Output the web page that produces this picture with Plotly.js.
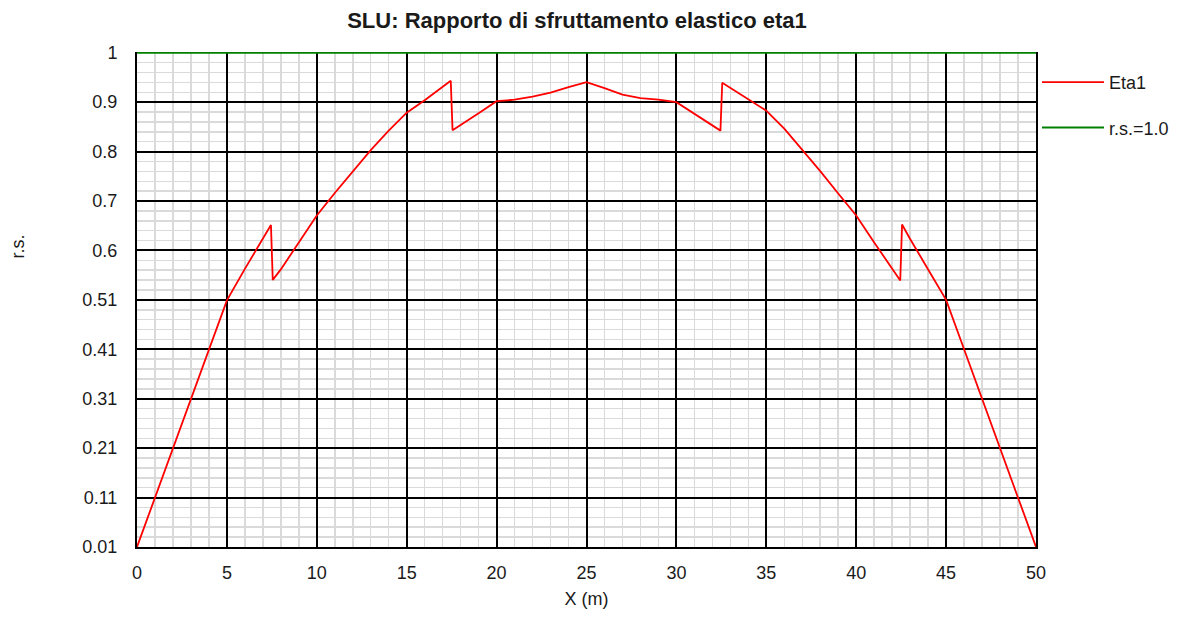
<!DOCTYPE html>
<html>
<head>
<meta charset="utf-8">
<script src="https://cdn.plot.ly/plotly-3.0.1.min.js"></script>
<style>
  html, body { margin: 0; padding: 0; background: #ffffff; }
  #chart { width: 1187px; height: 619px; }
</style>
</head>
<body>
<div id="chart"></div>
<script>
// ---- data ----
const xPos = [0, 1, 2, 3, 4, 5, 6, 7, 7.45, 7.55, 8, 9, 10, 11, 12, 13, 14, 15, 16, 17, 17.45, 17.55,
  18, 19, 20, 21, 22, 23, 24, 25, 26, 27, 28, 29, 30, 31, 32, 32.45, 32.55,
  33, 34, 35, 36, 37, 38, 39, 40, 41, 42, 42.45, 42.55, 43, 44, 45, 46, 47, 48, 49, 50];
const eta1 = [0.01, 0.109, 0.208, 0.307, 0.406, 0.504, 0.567, 0.628, 0.655, 0.545, 0.566, 0.620, 0.674,
  0.719, 0.763, 0.805, 0.844, 0.880, 0.905, 0.931, 0.944, 0.845,
  0.856, 0.879, 0.903, 0.906, 0.912, 0.920, 0.931, 0.941, 0.929, 0.916, 0.909, 0.906, 0.901, 0.878, 0.855, 0.844, 0.940,
  0.930, 0.907, 0.884, 0.848, 0.806, 0.763, 0.718, 0.674, 0.620, 0.566, 0.544, 0.656, 0.627, 0.566, 0.505,
  0.406, 0.307, 0.208, 0.109, 0.01];
const limitX = [0, 50];
const limitY = [1, 1];
const yTickVals = [0.01, 0.109, 0.208, 0.307, 0.406, 0.505, 0.604, 0.703, 0.802, 0.901, 1.0];
const yTickText = ['0.01', '0.11', '0.21', '0.31', '0.41', '0.51', '0.6', '0.7', '0.8', '0.9', '1'];
const seriesNames = ['Eta1', 'r.s.=1.0'];
const chartTitle = 'SLU: Rapporto di sfruttamento elastico eta1';
const xTitle = 'X (m)';
const yTitle = 'r.s.';

// minor y grid: 5 subdivisions between consecutive major ticks
const yMinorVals = [];
for (let i = 0; i < yTickVals.length - 1; i++) {
  const a = yTickVals[i], b = yTickVals[i + 1];
  for (let k = 1; k < 5; k++) yMinorVals.push(a + (b - a) * k / 5);
}

const FONT = 'Liberation Sans, Arial, sans-serif';
const TXT = '#1a1a1a';

const traces = [
  {
    x: xPos, y: eta1, type: 'scatter', mode: 'lines', name: seriesNames[0],
    legendgroup: 'a',
    line: { color: '#ff0000', width: 1.8 }
  },
  {
    x: limitX, y: limitY, type: 'scatter', mode: 'lines', name: seriesNames[1],
    legendgroup: 'b',
    line: { color: '#008000', width: 2 }
  }
];

const layout = {
  width: 1187, height: 619,
  paper_bgcolor: '#ffffff', plot_bgcolor: '#ffffff',
  margin: { l: 137, r: 151, t: 52, b: 72, pad: 0 },
  font: { family: FONT, size: 18, color: TXT },
  title: {
    text: chartTitle,
    font: { family: FONT, size: 22, color: TXT, weight: 'bold' },
    x: 577 / 1187, xref: 'container', xanchor: 'center',
    y: 1 - 20 / 619, yref: 'container', yanchor: 'middle'
  },
  xaxis: {
    range: [0, 50],
    tickmode: 'linear', tick0: 0, dtick: 5,
    showgrid: true, gridcolor: '#000000', gridwidth: 2,
    zeroline: false,
    showline: true, linecolor: '#000000', linewidth: 2, mirror: false,
    ticks: '', ticklabelstandoff: 8,
    tickfont: { family: FONT, size: 18, color: TXT },
    minor: { tickmode: 'linear', tick0: 0, dtick: 1, showgrid: true, gridcolor: '#dadada', gridwidth: 1.5, ticks: '' },
    title: { text: xTitle, font: { family: FONT, size: 18, color: TXT }, standoff: 11 },
    fixedrange: true
  },
  yaxis: {
    range: [0.01, 1.0015],
    tickmode: 'array', tickvals: yTickVals, ticktext: yTickText,
    showgrid: true, gridcolor: '#000000', gridwidth: 2,
    zeroline: false,
    showline: true, linecolor: '#000000', linewidth: 2, mirror: true,
    ticks: '', ticklabelstandoff: 14,
    tickfont: { family: FONT, size: 18, color: TXT },
    minor: { tickmode: 'array', tickvals: yMinorVals, showgrid: true, gridcolor: '#dadada', gridwidth: 1.5, ticks: '' },
    fixedrange: true
  },
  showlegend: true,
  legend: {
    xref: 'container', yref: 'container',
    x: 1037 / 1187, xanchor: 'left',
    y: 1 - 64 / 619, yanchor: 'top',
    bgcolor: 'rgba(0,0,0,0)', borderwidth: 0,
    font: { family: FONT, size: 18, color: TXT },
    itemwidth: 62,
    tracegroupgap: 19,
    traceorder: 'grouped'
  },
  annotations: [
    {
      text: yTitle, textangle: -90, showarrow: false,
      xref: 'paper', yref: 'paper',
      x: (17.5 - 137) / 899, y: (547 - 247) / 495,
      xanchor: 'center', yanchor: 'middle',
      font: { family: FONT, size: 18, color: TXT }
    }
  ]
};

Plotly.newPlot('chart', traces, layout, { displayModeBar: false, staticPlot: true });
</script>
</body>
</html>
